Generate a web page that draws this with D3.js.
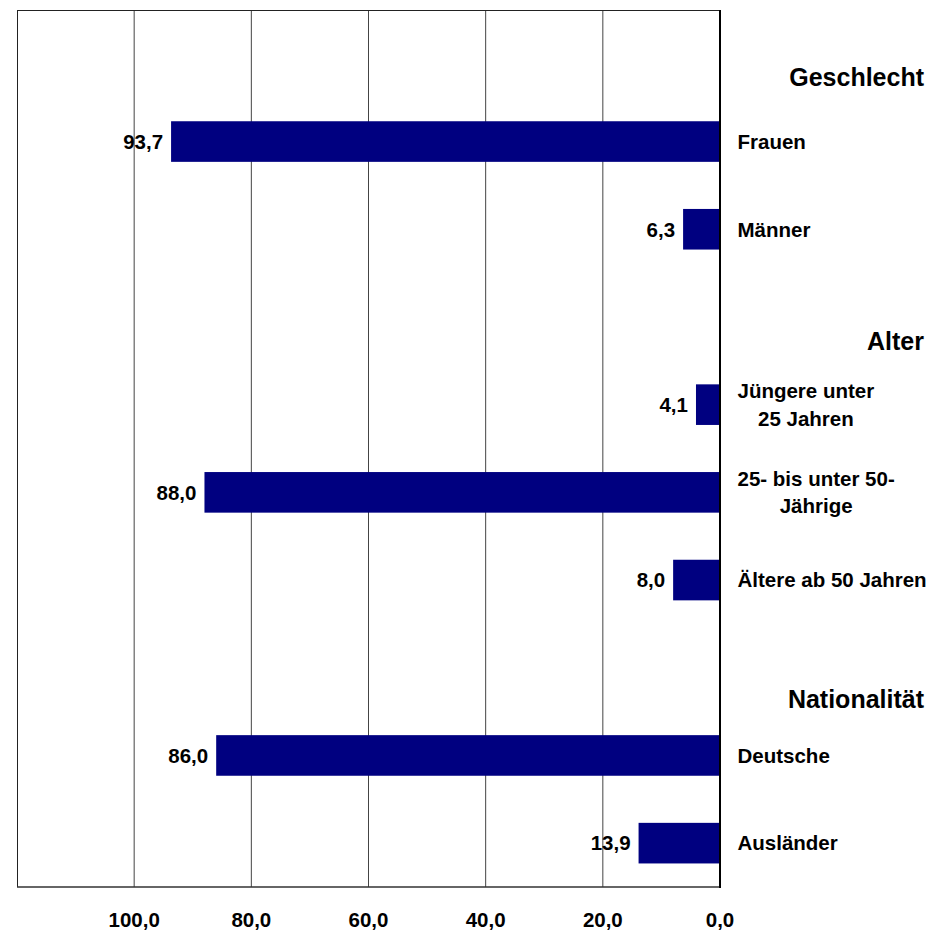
<!DOCTYPE html>
<html><head><meta charset="utf-8">
<script src="https://cdn.jsdelivr.net/npm/d3@7"></script>
<style>
body{margin:0;background:#fff}
text{font-family:"Liberation Sans",Arial,Helvetica,sans-serif;font-weight:bold;fill:#000}
</style>
</head><body>
<svg id="chart" width="935" height="932"></svg>
<script>
// ---- data ----
const categories = ["Geschlecht","Frauen","Männer","Alter","Jüngere unter|25 Jahren","25- bis unter 50-|Jährige","Ältere ab 50 Jahren","Nationalität","Deutsche","Ausländer"];
const values = [null, 93.7, 6.3, null, 4.1, 88.0, 8.0, null, 86.0, 13.9];
const groupHeaders = ["Geschlecht","Alter","Nationalität"];
const tickValues = [100, 80, 60, 40, 20, 0];
const tickLabels = ["100,0","80,0","60,0","40,0","20,0","0,0"];
const valueLabels = ["","93,7","6,3","","4,1","88,0","8,0","","86,0","13,9"];

// ---- layout ----
const svg = d3.select("#chart");
const L = 17, R = 720, T = 10, B = 887;
const x = d3.scaleLinear().domain([120, 0]).range([L, R]);
const y = d3.scaleBand().domain(categories).range([T, B]).paddingInner(0.537).paddingOuter(0.2685);
const bw = y.bandwidth();
const rows = categories.map((c, i) => ({c, v: values[i], lab: valueLabels[i]}));

// gridlines
svg.append("g").selectAll("line").data(tickValues.filter(t => t !== 0)).join("line")
  .attr("x1", d => x(d)).attr("x2", d => x(d)).attr("y1", T).attr("y2", B)
  .attr("stroke", "#444").attr("stroke-width", 1);

// frame
svg.append("line").attr("x1", L).attr("x2", R).attr("y1", T + 0.5).attr("y2", T + 0.5).attr("stroke", "#222");
svg.append("line").attr("x1", L + 0.5).attr("x2", L + 0.5).attr("y1", T).attr("y2", B).attr("stroke", "#222");
svg.append("line").attr("x1", L).attr("x2", R).attr("y1", B).attr("y2", B).attr("stroke", "#333").attr("stroke-width", 1.5);

// bars
const bars = rows.filter(r => r.v !== null);
svg.append("g").selectAll("rect").data(bars).join("rect")
  .attr("x", d => x(d.v)).attr("width", d => x(0) - x(d.v))
  .attr("y", d => y(d.c)).attr("height", bw)
  .attr("fill", "#000080");

// category axis line at 0
svg.append("line").attr("x1", x(0)).attr("x2", x(0)).attr("y1", T).attr("y2", B + 1)
  .attr("stroke", "#000").attr("stroke-width", 2);

// value labels
svg.append("g").selectAll("text").data(bars).join("text")
  .attr("x", d => x(d.v) - 8).attr("y", d => y(d.c) + bw / 2 + 7.3)
  .attr("text-anchor", "end").style("font-size", "20.5px")
  .text(d => d.lab);

// category labels (centered multi-line blocks, left edge at labelX)
const labelX = 737.5, lineH = 27.3;
bars.forEach(d => {
  const lines = d.c.split("|");
  const g = svg.append("g");
  const cy = y(d.c) + bw / 2 + 7.3;
  const ts = lines.map((ln, i) => g.append("text")
    .attr("y", cy + (i - (lines.length - 1) / 2) * lineH)
    .style("font-size", "20.5px").text(ln));
  const widths = ts.map(t => t.node().getComputedTextLength());
  const maxW = d3.max(widths);
  ts.forEach(t => t.attr("x", labelX + maxW / 2).attr("text-anchor", "middle"));
});

// group headers
const headerShift = {"Geschlecht": 32, "Alter": 33, "Nationalität": 40.5};
svg.append("g").selectAll("text").data(groupHeaders).join("text")
  .attr("x", 924).attr("y", d => y(d) + bw / 2 + headerShift[d])
  .attr("text-anchor", "end").style("font-size", "25px")
  .text(d => d);

// x axis tick labels
svg.append("g").selectAll("text").data(tickValues).join("text")
  .attr("x", d => x(d)).attr("y", 926.5)
  .attr("text-anchor", "middle").style("font-size", "20.5px")
  .text((d, i) => tickLabels[i]);
</script>
</body></html>
